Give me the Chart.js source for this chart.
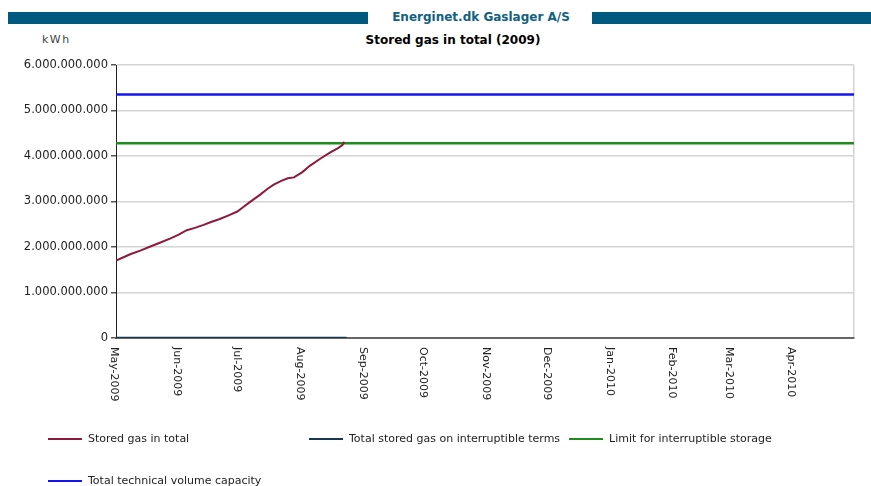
<!DOCTYPE html>
<html>
<head>
<meta charset="utf-8">
<script src="https://cdn.jsdelivr.net/npm/chart.js@4/dist/chart.umd.min.js"></script>
<style>
  html,body{margin:0;padding:0;background:#fff;}
  #wrap{position:relative;width:871px;height:486px;overflow:hidden;font-family:"DejaVu Sans",sans-serif;}
  .band{position:absolute;top:12px;height:12px;background:#005a80;}
  #hdr{position:absolute;top:10px;left:370px;width:222px;text-align:center;font:bold 12px "DejaVu Sans",sans-serif;color:#11607f;white-space:nowrap;}
  #unit{position:absolute;top:33px;left:42px;font:11px "DejaVu Sans",sans-serif;letter-spacing:1.5px;color:#444;}
  #title{position:absolute;top:33px;left:300px;width:306px;text-align:center;font:bold 12px "DejaVu Sans",sans-serif;color:#000;white-space:nowrap;}
  canvas{position:absolute;left:0;top:0;}
  .lg{position:absolute;height:14px;font:11px "DejaVu Sans",sans-serif;color:#222;white-space:nowrap;}
  .lg i{position:absolute;left:0;top:6px;width:34px;height:2px;}
  .lg span{position:absolute;left:40px;top:0;}
</style>
</head>
<body>
<div id="wrap">
  <div class="band" style="left:8px;width:360px"></div>
  <div class="band" style="left:592px;width:279px"></div>
  <div id="hdr">Energinet.dk Gaslager A/S</div>
  <div id="unit">kWh</div>
  <div id="title">Stored gas in total (2009)</div>
  <canvas id="c" width="871" height="486"></canvas>
  <div id="legend"></div>
</div>
<script>
// ---- data ----
const monthLabels = ["May-2009","Jun-2009","Jul-2009","Aug-2009","Sep-2009","Oct-2009","Nov-2009","Dec-2009","Jan-2010","Feb-2010","Mar-2010","Apr-2010"];
const monthDays   = [0,31,61,92,123,153,184,214,245,276,304,335];
const axisEndDay  = 365;
const yTicks = [0,1e9,2e9,3e9,4e9,5e9,6e9];

const storedDays   = [0,4,7,12,17,22,27,31,35,39,43,47,51,56,60,63,66,71,75,78,82,85,88,92,96,101,106,110,112,113];
const storedValues = [1.70e9,1.78e9,1.84e9,1.92e9,2.01e9,2.10e9,2.19e9,2.27e9,2.37e9,2.42e9,2.48e9,2.55e9,2.61e9,2.70e9,2.78e9,2.88e9,2.98e9,3.14e9,3.28e9,3.37e9,3.46e9,3.51e9,3.53e9,3.64e9,3.79e9,3.94e9,4.08e9,4.18e9,4.24e9,4.31e9];

const interruptDays   = [0,114];
const interruptValues = [0,0];

const limitDays   = [0,365];
const limitValues = [4.28e9,4.28e9];

const capacityDays   = [0,365];
const capacityValues = [5.35e9,5.35e9];

const seriesNames = ["Stored gas in total","Total stored gas on interruptible terms","Limit for interruptible storage","Total technical volume capacity"];
const seriesColors = ["#8c1a3e","#17384f","#1f8c1f","#1414ee"];

// ---- build ----
const zip = (xs, ys) => xs.map((x, i) => ({x, y: ys[i]}));
const fmt = v => String(Math.round(v)).replace(/\B(?=(\d{3})+(?!\d))/g, ".");

const datasets = [
  {label: seriesNames[0], data: zip(storedDays, storedValues), borderColor: seriesColors[0], borderWidth: 2},
  {label: seriesNames[1], data: zip(interruptDays, interruptValues), borderColor: seriesColors[1], borderWidth: 2.5},
  {label: seriesNames[2], data: zip(limitDays, limitValues), borderColor: seriesColors[2], borderWidth: 2.5},
  {label: seriesNames[3], data: zip(capacityDays, capacityValues), borderColor: seriesColors[3], borderWidth: 2.5}
].map(d => Object.assign(d, {pointRadius: 0, fill: false, tension: 0}));

const xLabelPlugin = {
  id: 'xLabels',
  afterDraw(chart) {
    const sc = chart.scales.x, ctx = chart.ctx;
    ctx.save();
    ctx.font = '11px "DejaVu Sans", sans-serif';
    ctx.fillStyle = '#222';
    ctx.textAlign = 'left';
    ctx.textBaseline = 'middle';
    monthDays.forEach((d, i) => {
      const px = sc.getPixelForValue(d);
      ctx.save();
      ctx.translate(px - 2, chart.chartArea.bottom + 9);
      ctx.rotate(Math.PI / 2);
      ctx.fillText(monthLabels[i], 0, 0);
      ctx.restore();
    });
    ctx.restore();
  }
};

new Chart(document.getElementById('c'), {
  type: 'line',
  data: {datasets},
  options: {
    responsive: false,
    animation: false,
    devicePixelRatio: 1,
    layout: {padding: {left: 0, top: 65, right: 17, bottom: 88}},
    plugins: {legend: {display: false}, title: {display: false}, tooltip: {enabled: false}},
    scales: {
      x: {
        type: 'linear', min: 0, max: axisEndDay,
        afterBuildTicks: s => { s.ticks = monthDays.concat([axisEndDay]).map(v => ({value: v})); },
        afterFit: s => { s.height = 60; },
        ticks: {display: false},
        grid: {
          drawTicks: false,
          color: c => (c.tick && c.tick.value === axisEndDay) ? '#d4d4d4' : 'rgba(0,0,0,0)',
          lineWidth: 1.5
        },
        border: {color: '#666', width: 2}
      },
      y: {
        min: 0, max: 6e9,
        afterBuildTicks: s => { s.ticks = yTicks.map(v => ({value: v})); },
        afterFit: s => { s.width = 116; },
        ticks: {
          callback: v => fmt(v),
          font: {family: '"DejaVu Sans", sans-serif', size: 11.5},
          color: '#222',
          padding: 3
        },
        grid: {color: '#d4d4d4', lineWidth: 1.5, tickLength: 5, tickColor: '#555'},
        border: {color: '#222', width: 1}
      }
    }
  },
  plugins: [xLabelPlugin]
});

// ---- legend ----
const legendPos = [[48,432],[309,432],[569,432],[48,474]];
const lg = document.getElementById('legend');
seriesNames.forEach((n, i) => {
  const d = document.createElement('div');
  d.className = 'lg';
  d.style.left = legendPos[i][0] + 'px';
  d.style.top = legendPos[i][1] + 'px';
  d.innerHTML = '<i style="background:' + seriesColors[i] + '"></i><span>' + n + '</span>';
  lg.appendChild(d);
});
</script>
</body>
</html>
